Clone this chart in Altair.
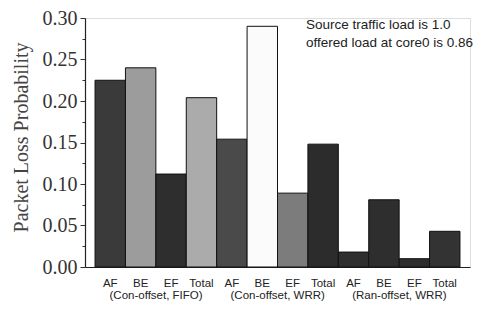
import altair as alt
import pandas as pd

groups = ["(Con-offset, FIFO)", "(Con-offset, WRR)", "(Ran-offset, WRR)"]
classes = ["AF", "BE", "EF", "Total"]
fifo = [0.225, 0.24, 0.112, 0.204]
wrr = [0.154, 0.29, 0.089, 0.148]
ran = [0.018, 0.081, 0.010, 0.043]
series = [fifo, wrr, ran]
y_ticks = [0.0, 0.025, 0.05, 0.075, 0.1, 0.125, 0.15, 0.175, 0.2, 0.225, 0.25, 0.275, 0.3]
note_lines = ["Source traffic load is 1.0", "offered load at core0 is 0.86"]

bar_colors = ["#3a3a3a", "#9c9c9c", "#2e2e2e", "#ababab",
              "#4a4a4a", "#fbfbfb", "#7c7c7c", "#2c2c2c",
              "#2e2e2e", "#2e2e2e", "#2e2e2e", "#333333"]

rows = []
for gi, g in enumerate(groups):
    for ci, c in enumerate(classes):
        rows.append({"id": f"{c}|{gi}", "cls": c, "group": g, "value": series[gi][ci]})
df = pd.DataFrame(rows)
ids = list(df["id"])

gdf = pd.DataFrame({"group": groups, "anchor": [f"EF|{i}" for i in range(3)]})

W, H = 385, 249
xscale = alt.Scale(domain=ids, paddingInner=0, paddingOuter=0.33)

bars = alt.Chart(df).mark_bar(stroke="#111", strokeWidth=1).encode(
    x=alt.X("id:N", scale=xscale, sort=ids,
            axis=alt.Axis(title=None, labelAngle=0, ticks=False,
                          labelExpr="split(datum.value, '|')[0]",
                          labelFont="Liberation Sans", labelFontSize=11.5,
                          labelColor="#222", labelPadding=10,
                          domainColor="#222", domainWidth=1.2)),
    y=alt.Y("value:Q", scale=alt.Scale(domain=[0, 0.30], nice=False),
            axis=alt.Axis(title="Packet Loss Probability",
                          values=y_ticks,
                          labelExpr="round(datum.value*1000) % 50 == 0 ? format(datum.value, '.2f') : ''",
                          tickSize={"condition": {"test": "round(datum.value*1000) % 50 == 0", "value": 5}, "value": 3},
                          tickColor="#333", domainColor="#222", domainWidth=1.2,
                          labelFont="Liberation Serif", labelFontSize=20,
                          labelColor="#333", labelPadding=3, labelOverlap=False,
                          titleFont="Liberation Serif", titleFontSize=20,
                          titleFontWeight="normal", titleColor="#444",
                          titlePadding=11, titleY=119, grid=False)),
    color=alt.Color("id:N", scale=alt.Scale(domain=ids, range=bar_colors), legend=None),
)

glabels = alt.Chart(gdf).mark_text(font="Liberation Sans", fontSize=11.5, color="#222",
                                   dx=-15, baseline="middle").encode(
    x=alt.X("anchor:N", scale=xscale, sort=ids),
    y=alt.value(H + 29),
    text="group:N",
)

note = alt.Chart(pd.DataFrame({"a": [0]})).mark_text(
    text=note_lines,
    font="Liberation Sans", fontSize=13.5, color="#222", align="left",
    baseline="middle", lineHeight=18).encode(
    x=alt.value(221), y=alt.value(7))

chart = alt.layer(bars, glabels, note).properties(
    width=W, height=H,
    autosize=alt.AutoSizeParams(type="none"),
    padding={"left": 77, "top": 10, "right": 12, "bottom": 35},
).configure_view(stroke=None).configure(background="white")

chart.save("out.html", embed_options={"renderer": "svg", "actions": False})
